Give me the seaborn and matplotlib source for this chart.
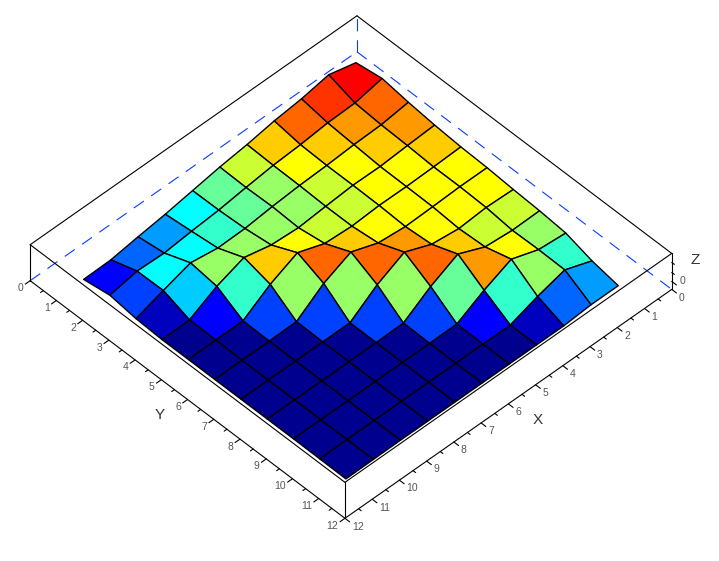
import numpy as np
import seaborn as sns
import matplotlib.pyplot as plt
from mpl_toolkits.mplot3d import proj3d

# Grid of the surface
x_vals = [1, 2, 3, 4, 5, 6, 7, 8, 9, 10, 11]
y_vals = [1, 2, 3, 4, 5, 6, 7, 8, 9, 10, 11]

# Heights, one row per x value
z_rows = [
    [28.0, 32.0, 28.0, 25.0, 23.0, 22.0, 20.0, 18.5, 16.0, 8.0, 3.0],
    [35.0, 26.5, 24.5, 23.5, 22.0, 22.0, 21.0, 18.0, 18.5, 18.0, 3.0],
    [30.0, 25.7, 23.7, 21.7, 21.4, 21.0, 19.0, 20.5, 28.0, 10.5, 1.0],
    [27.0, 23.0, 22.0, 22.0, 21.6, 20.3, 22.4, 32.4, 16.0, 1.0, 1.0],
    [22.4, 21.4, 21.0, 20.0, 20.0, 23.0, 33.6, 19.0, 1.3, 1.0, 1.0],
    [19.0, 18.3, 19.0, 17.7, 21.7, 33.0, 20.0, 1.5, 1.0, 1.0, 1.0],
    [14.5, 14.8, 16.2, 19.5, 31.6, 20.6, 1.0, 1.0, 1.0, 1.0, 1.0],
    [10.0, 12.7, 15.7, 26.0, 19.0, 1.5, 1.0, 1.0, 1.0, 1.0, 1.0],
    [6.5, 10.0, 20.0, 16.3, 1.6, 1.0, 1.0, 1.0, 1.0, 1.0, 1.0],
    [2.5, 11.0, 11.4, 1.8, 1.5, 1.0, 1.0, 1.0, 1.0, 1.0, 0.8],
    [2.0, 6.0, 2.3, 1.0, 1.0, 1.0, 1.0, 1.0, 1.0, 0.8, 0.5],
]

# Colour level of every cell
cell_levels = [
    [17, 15, 14, 13, 12, 12, 11, 10, 8, 5],
    [16, 14, 13, 12, 12, 12, 11, 12, 10, 4],
    [15, 13, 12, 12, 12, 12, 13, 14, 8, 1],
    [13, 12, 11, 11, 12, 14, 15, 9, 2, 0],
    [11, 10, 10, 11, 13, 15, 10, 3, 0, 0],
    [9, 9, 10, 12, 15, 10, 3, 0, 0, 0],
    [7, 8, 10, 13, 10, 3, 0, 0, 0, 0],
    [5, 7, 10, 8, 3, 0, 0, 0, 0, 0],
    [4, 7, 6, 2, 0, 0, 0, 0, 0, 0],
    [2, 3, 1, 0, 0, 0, 0, 0, 0, 0],
]

jet_levels = ['#00008F', '#0000BF', '#0000FF', '#0040FF', '#0066FF', '#009CFF',
              '#00CCFF', '#00FFFF', '#33FFCC', '#66FF99', '#99FF66', '#CCFF33',
              '#FFFF00', '#FFCC00', '#FF9900', '#FF6600', '#FF3300', '#FF0000']

tick_vals = [0, 1, 2, 3, 4, 5, 6, 7, 8, 9, 10, 11, 12]
z_top = 36.0

sns.set_theme(style='white')
plt.rcParams['font.family'] = ['Liberation Sans', 'DejaVu Sans']

fig = plt.figure(figsize=(7.19, 5.61), dpi=100)
ax = fig.add_axes([30 / 719, -27 / 561, 625 / 719, 625 / 561], projection='3d', proj_type='ortho')
ax.computed_zorder = False
ax.view_init(elev=46.65, azim=46.07)
ax.set_box_aspect((12, 12, 1.386))
ax.set_xlim(0, 12)
ax.set_ylim(0, 12)
ax.set_zlim(0, z_top)
ax.set_xticks([])
ax.set_yticks([])
ax.set_zticks([])
ax.set_axis_off()


def label_at(x, y, z, text, ha):
    # project by hand so the label is an ordinary 2D text
    xp, yp, _ = proj3d.proj_transform(x, y, z, ax.get_proj())
    ax.text2D(xp, yp, text, transform=ax.transData, ha=ha, va='center',
              fontsize=7.5, color='#555555')


# Dashed back edges on the floor
blue = '#0A3CFF'
for xs, ys, zs in [([12, 0], [0, 0], [0, 0]), ([0, 0], [0, 12], [0, 0]), ([0, 0], [0, 0], [0, z_top])]:
    ax.plot(xs, ys, zs, color=blue, lw=0.8, dashes=(11, 8), zorder=1, clip_on=False)

# Surface
X, Y = np.meshgrid(x_vals, y_vals, indexing='ij')
Z = np.array(z_rows)
colors = np.array(sns.color_palette(jet_levels))[np.array(cell_levels)]
surf = ax.plot_surface(X, Y, Z, facecolors=colors, rstride=1, cstride=1, shade=False,
                       linewidth=1.0, antialiased=True, zorder=2)
surf.set_edgecolor('black')

# Box outline
box_lines = [
    ([0, 12], [0, 0], [z_top, z_top]), ([12, 12], [0, 12], [z_top, z_top]),
    ([12, 0], [12, 12], [z_top, z_top]), ([0, 0], [12, 0], [z_top, z_top]),
    ([12, 12], [0, 0], [0, z_top]), ([12, 12], [12, 12], [0, z_top]), ([0, 0], [12, 12], [0, z_top]),
    ([12, 12], [0, 12], [0, 0]), ([12, 0], [12, 12], [0, 0]),
]
for xs, ys, zs in box_lines:
    ax.plot(xs, ys, zs, color='black', lw=0.8, zorder=3, clip_on=False)

# Axis ticks
for t in tick_vals:
    ax.plot([12, 12.18], [t, t], [0, 0], color='black', lw=0.8, zorder=3, clip_on=False)
    ax.plot([t, t], [12, 12.18], [0, 0], color='black', lw=0.8, zorder=3, clip_on=False)
    label_at(12.24, t, -3, str(t), 'right')
    label_at(t, 12.27, -3, str(t), 'left')
    if t < 12:
        ax.plot([12, 12.1], [t + 0.5, t + 0.5], [0, 0], color='black', lw=0.8, zorder=3, clip_on=False)
        ax.plot([t + 0.5, t + 0.5], [12, 12.1], [0, 0], color='black', lw=0.8, zorder=3, clip_on=False)

ax.plot([0, 0], [12, 12.18], [8, 8], color='black', lw=0.8, zorder=3, clip_on=False)
for zt in [17, 27]:
    ax.plot([0, 0], [12, 12.1], [zt, zt], color='black', lw=0.8, zorder=3, clip_on=False)
label_at(0, 12.3, 14, '0', 'left')

# Axis names
fig.text(160 / 719, 1 - 415 / 561, 'Y', ha='center', va='center', fontsize=11, color='#333333')
fig.text(538 / 719, 1 - 420 / 561, 'X', ha='center', va='center', fontsize=11, color='#333333')
fig.text(695.5 / 719, 1 - 260 / 561, 'Z', ha='center', va='center', fontsize=11, color='#333333')

fig.savefig('out.png', dpi=100)
